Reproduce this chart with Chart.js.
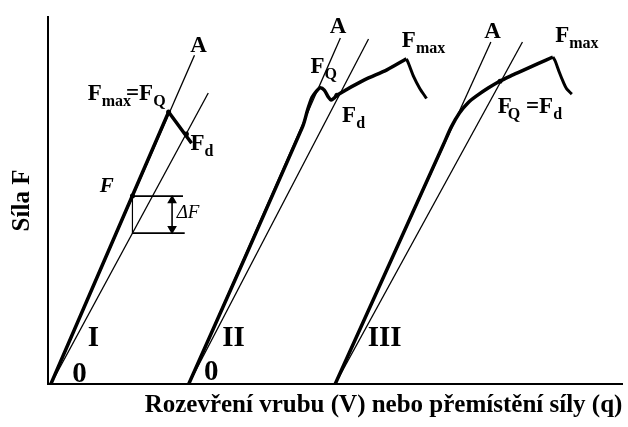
<!DOCTYPE html>
<html>
<head>
<meta charset="utf-8">
<script src="https://cdn.jsdelivr.net/npm/chart.js@4.4.1/dist/chart.umd.min.js"></script>
<style>
  html, body { margin: 0; padding: 0; background: #fff; }
  #wrap { width: 628px; height: 427px; }
</style>
</head>
<body>
<div id="wrap"><canvas id="chart"></canvas></div>
<script>
// Axis titles
const xTitle = 'Rozevření vrubu (V) nebo přemístění síly (q)';
const yTitle = 'Síla F';

// Type I record: linear rise to Fmax = FQ, then sudden drop
const curveI = [[0.5, 0], [21.0, 74.1], [25.0, 65.6]];
const tangentI = [[0.5, 0], [25.5, 89.6]];
const secantI = [[0.5, 0], [27.9, 79.3]];
const pointF = [14.7, 51.2];
const deltaTop = 51.2;
const deltaBottom = 41.1;
const deltaRight = 23.5;
const arrowX = 21.6;

// Type II record: pop-in (FQ), then rise to Fmax
const riseII = [[24.5, 0], [44.3, 70.0], [45.2, 74.7], [46.0, 78.2], [46.9, 80.1], [47.4, 80.7],
                [48.1, 80.1], [48.8, 78.2], [49.3, 77.4], [49.8, 77.9], [50.3, 78.7],
                [55.0, 82.8], [59.0, 85.6], [62.4, 88.6]];
const dropII = [[62.4, 88.6], [62.8, 87.2], [63.7, 83.6], [64.7, 80.6], [65.9, 77.8]];
const tangentII = [[24.5, 0], [50.9, 94.3]];
const secantII = [[24.5, 0], [55.8, 94.0]];

// Type III record: smooth nonlinear rise to Fmax
const riseIII = [[50.0, 0], [68.8, 65.1], [70.2, 70.0], [71.6, 73.8], [73.1, 76.6], [74.8, 78.7],
                 [76.7, 80.7], [78.4, 82.3], [80.5, 83.9], [82.8, 85.5], [85.3, 87.3], [87.9, 89.1]];
const dropIII = [[87.9, 89.1], [88.3, 88.0], [89.0, 85.0], [89.7, 82.3], [90.3, 80.4], [91.2, 79.0]];
const tangentIII = [[50.0, 0], [77.1, 93.2]];
const secantIII = [[50.0, 0], [82.6, 93.2]];

// Marked points
const dots = [[21.0, 74.1], [24.1, 68.1], [14.7, 51.2], [50.3, 78.7], [78.7, 82.5]];

const MAIN_FONT = 'bold 23px "Liberation Serif"';
const SUB_FONT = 'bold 16px "Liberation Serif"';
const NUM_FONT = 'bold 29px "Liberation Serif"';

// Text notes (data coordinates, left/centre anchor, baseline)
const notes = [
  { at: [26.2, 90.5], align: 'center', parts: [{ t: 'A' }] },
  { at: [6.9, 77.4], parts: [{ t: 'F' }, { t: 'max', sub: true }, { t: '=', dx: -5 }, { t: 'F' }, { t: 'Q', sub: true }] },
  { at: [24.8, 63.8], parts: [{ t: 'F' }, { t: 'd', sub: true }] },
  { at: [9.0, 52.3], parts: [{ t: 'F', font: 'italic bold 21px "Liberation Serif"' }] },
  { at: [22.4, 45.2], parts: [{ t: 'ΔF', font: 'italic 19px "Liberation Serif"' }] },
  { at: [7.9, 10.4], align: 'center', parts: [{ t: 'I', font: NUM_FONT }] },
  { at: [5.5, 0.5], align: 'center', parts: [{ t: '0', font: NUM_FONT }] },

  { at: [50.5, 95.6], align: 'center', parts: [{ t: 'A' }] },
  { at: [45.7, 84.7], parts: [{ t: 'F' }, { t: 'Q', sub: true }] },
  { at: [51.2, 71.4], parts: [{ t: 'F' }, { t: 'd', sub: true }] },
  { at: [61.6, 91.8], parts: [{ t: 'F' }, { t: 'max', sub: true }] },
  { at: [32.3, 10.4], align: 'center', parts: [{ t: 'II', font: NUM_FONT }] },
  { at: [28.4, 1.1], align: 'center', parts: [{ t: '0', font: NUM_FONT }] },

  { at: [77.4, 94.3], align: 'center', parts: [{ t: 'A' }] },
  { at: [88.3, 93.2], parts: [{ t: 'F' }, { t: 'max', sub: true }] },
  { at: [78.3, 73.8], parts: [{ t: 'F' }, { t: 'Q', sub: true, dx: -4 }, { t: ' =' }, { t: 'F' }, { t: 'd', sub: true }] },
  { at: [58.6, 10.4], align: 'center', parts: [{ t: 'III', font: NUM_FONT }] }
];

function line(points, width, extra) {
  return Object.assign({
    data: points.map(p => ({ x: p[0], y: p[1] })),
    showLine: true,
    borderColor: '#000',
    backgroundColor: '#000',
    borderWidth: width,
    borderJoinStyle: 'round',
    pointRadius: 0,
    tension: 0,
    fill: false
  }, extra || {});
}

const notesPlugin = {
  id: 'notes',
  afterDatasetsDraw(chart) {
    const { ctx, scales: { x, y } } = chart;
    ctx.save();
    ctx.fillStyle = '#000';
    ctx.textBaseline = 'alphabetic';
    ctx.textAlign = 'left';
    notes.forEach(n => {
      let width = 0;
      n.parts.forEach(p => {
        ctx.font = p.font || (p.sub ? SUB_FONT : MAIN_FONT);
        width += ctx.measureText(p.t).width + (p.dx || 0);
      });
      let px = x.getPixelForValue(n.at[0]);
      const py = y.getPixelForValue(n.at[1]);
      if (n.align === 'center') px -= width / 2;
      n.parts.forEach(p => {
        ctx.font = p.font || (p.sub ? SUB_FONT : MAIN_FONT);
        px += p.dx || 0;
        ctx.fillText(p.t, px, py + (p.sub ? 6 : 0));
        px += ctx.measureText(p.t).width;
      });
    });
    ctx.restore();
  }
};

const titleFont = { family: 'Liberation Serif', size: 25, weight: 'bold' };

new Chart(document.getElementById('chart'), {
  type: 'scatter',
  data: {
    datasets: [
      line(dots, 0, { showLine: false, pointRadius: 2.5 }),
      line(curveI, 3.5),
      line(riseII, 3.5, { tension: 0.3 }),
      line(dropII, 3, { tension: 0.3 }),
      line(riseIII, 3.5, { tension: 0.3 }),
      line(dropIII, 3, { tension: 0.3 }),
      line(tangentI, 1.3),
      line(secantI, 1.3),
      line(tangentII, 1.3),
      line(secantII, 1.3),
      line(tangentIII, 1.3),
      line(secantIII, 1.3),
      // Delta F construction
      line([[pointF[0], deltaTop], [deltaRight, deltaTop]], 1.6),
      line([[pointF[0], deltaBottom], [deltaRight + 0.3, deltaBottom]], 1.6),
      line([[pointF[0], deltaTop], [pointF[0], deltaBottom]], 1.2),
      line([[arrowX, deltaTop - 1.2], [arrowX, deltaBottom + 1.2]], 1.6, {
        pointRadius: 4, pointStyle: 'triangle', pointRotation: [0, 180]
      })
    ]
  },
  options: {
    responsive: true,
    maintainAspectRatio: false,
    animation: false,
    layout: { padding: { top: 17, right: 0, bottom: 0, left: 0 } },
    plugins: { legend: { display: false }, tooltip: { enabled: false } },
    scales: {
      x: {
        type: 'linear', min: 0, max: 100,
        ticks: { display: false },
        grid: { display: false },
        border: { color: '#000', width: 2 },
        title: { display: true, text: xTitle, align: 'end', color: '#000', font: titleFont, padding: { top: 0, bottom: 6 } },
        afterFit: s => { s.height = 43; }
      },
      y: {
        type: 'linear', min: 0, max: 100,
        ticks: { display: false },
        grid: { display: false },
        border: { color: '#000', width: 2 },
        title: { display: true, text: yTitle, color: '#000', font: titleFont, padding: { top: 8, bottom: 0 } },
        afterFit: s => { s.width = 48; }
      }
    }
  },
  plugins: [notesPlugin]
});
</script>
</body>
</html>
